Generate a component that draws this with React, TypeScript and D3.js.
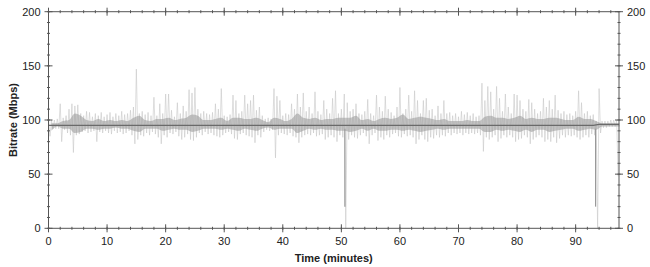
import React from "react";
import * as d3 from "d3";

// Light envelope, 0.5-minute bins starting at t = 0
const binStep = 0.5;
const lightHi = [
  101,100,100,101,115,102,104,110,115,113, // 0-4.5
  114,106,104,108,107,103,106,104,107,103, // 5-9.5
  105,107,103,106,104,108,105,106,109,112, // 10-14.5
  147,106,108,105,107,104,121,104,115,106, // 15-19.5
  124,124,109,103,116,106,113,108,128,125, // 20-24.5
  130,110,106,108,106,105,107,115,110,129, // 25-29.5
  104,103,105,123,118,106,108,123,115,118, // 30-34.5
  123,109,112,104,101,102,101,129,122,118, // 35-39.5
  104,106,105,115,110,124,112,125,108,112, // 40-44.5
  106,126,108,105,118,110,106,120,127,106, // 45-49.5
  110,124,116,108,110,115,106,105,108,119, // 50-54.5
  106,104,123,112,108,122,110,107,104,112, // 55-59.5
  130,106,110,123,108,127,118,106,118,120, // 60-64.5
  109,110,104,113,106,118,106,107,104,106, // 65-69.5
  103,108,105,107,104,106,103,104,134,118, // 70-74.5
  131,126,110,131,120,108,124,112,106,124, // 75-79.5
  123,118,110,108,119,116,110,106,108,120, // 80-84.5
  112,118,110,123,109,106,108,105,106,104, // 85-89.5
  108,127,116,106,108,104,105,99,129,99,   // 90-94.5
  99,99,100,100,100                          // 95-97
];
const lightLo = [
  85,92,92,92,80,91,88,86,70,86,
  87,89,90,88,89,90,80,89,88,90,
  88,87,90,88,89,87,88,90,86,78,
  82,86,85,88,86,89,87,84,78,86,
  84,88,87,89,85,82,84,87,82,81,
  84,88,86,89,87,88,86,85,84,86,
  88,89,87,83,82,87,88,86,85,84,
  79,86,84,89,91,90,91,65,86,88,
  87,86,88,85,84,79,84,86,87,86,
  88,85,86,87,82,84,86,84,80,86,
  84,0,82,86,84,83,86,88,85,78,
  86,88,81,84,82,86,84,87,88,85,
  84,87,85,86,84,78,82,86,82,80,
  84,83,86,84,86,85,88,86,88,87,
  88,86,88,87,88,87,88,86,71,84,
  82,84,86,80,83,86,84,86,84,80,
  82,83,86,84,78,82,84,86,84,80,
  82,80,84,79,83,86,84,86,85,86,
  84,82,84,86,84,87,86,0,88,93,
  93,94,94,94,48
];

// Dark core band, 1-minute bins starting at t = 0
const coreStep = 1;
const coreHi = [
  97,97,99,100,106,104,100,99,101,99,
  100,99,100,99,102,104,100,99,101,101,
  102,100,101,102,105,104,100,100,101,102,
  99,102,102,101,101,102,100,98,102,101,
  99,101,106,102,101,102,100,101,101,102,
  102,102,104,100,101,99,101,102,101,102,
  105,101,102,103,102,101,100,101,99,99,
  99,100,99,99,103,104,102,102,101,102,
  104,101,102,101,101,102,102,101,100,100,
  103,101,101,99,97,97,97,97
];
const coreLo = [
  90,94,92,92,88,89,92,92,91,92,
  92,93,92,92,90,89,92,92,92,90,
  91,92,91,91,89,90,92,92,92,91,
  92,91,90,92,91,90,92,93,91,92,
  92,92,88,90,92,91,92,91,91,90,
  90,89,90,92,90,92,90,90,91,91,
  90,91,90,89,90,91,92,91,92,92,
  92,92,92,92,89,89,91,90,91,90,
  89,91,89,91,91,89,90,91,92,92,
  90,91,92,91,94,94,94,94
];
// Per-minute median level (the dark centre line)
const median = [
  95,95,95,95,95,95,95,95,95,95,
  95,95,95,95,95,95,95,95,95,95,
  95,95,95,95,95,95,95,95,95,95,
  95,95,95,95,95,95,95,95,95,95,
  95,95,95,95,95,95,95,95,95,95,
  95,95,95,95,95,95,95,95,95,95,
  95,95,95,95,95,95,95,95,95,95,
  95,95,95,95,95,95,95,95,95,95,
  95,95,95,95,95,95,95,95,95,95,
  95,95,95,95,96,96,96,96
];
// Darker part of the two drop-outs
const dipTimes = [50.6, 93.4];
const dipLows = [20, 20];

const xMajor = [0, 10, 20, 30, 40, 50, 60, 70, 80, 90];
const yMajor = [0, 50, 100, 150, 200];
const xMinor = d3.range(0, 97, 2);
const yMinor = d3.range(0, 201, 10);

const W = 650;
const H = 267;

export default function App() {
  const x = d3.scaleLinear().domain([0, 97.4]).range([48.5, 619]);
  const y = d3.scaleLinear().domain([0, 200]).range([228.3, 11.7]);

  const lightPts: [number, number][] = [];
  lightHi.forEach((h, i) => {
    const t = i * binStep;
    lightPts.push([t, h]);
    lightPts.push([t + binStep / 2, lightLo[i]]);
  });

  const coreData = coreHi.map((h, i) => ({ t: i * coreStep + 0.5, hi: h, lo: coreLo[i] }));
  const area = d3
    .area<{ t: number; hi: number; lo: number }>()
    .x((d) => x(d.t))
    .y0((d) => y(d.lo))
    .y1((d) => y(d.hi))
    .curve(d3.curveMonotoneX);

  const medPts: [number, number][] = median.map((m, i) => [i * coreStep, m]);
  medPts.push([97.4, median[median.length - 1]]);
  const line = d3
    .line<[number, number]>()
    .x((d) => x(d[0]))
    .y((d) => y(d[1]));

  const x0 = x(0), x1 = x(97.4), yT = y(200), yB = y(0);
  const axisColor = "#555";
  const font = "'Liberation Sans', Arial, sans-serif";

  return (
    <svg
      width={W}
      height={H}
      style={{ position: "absolute", left: 0, top: 0, background: "#fff" }}
      fontFamily={font}
    >
      <path d={line(lightPts) || ""} fill="none" stroke="#c8c8c8" strokeWidth={0.6} />
      <path d={area(coreData) || ""} fill="#8f8f8f" fillOpacity={0.5} />
      {dipTimes.map((t, i) => (
        <line key={"d" + i} x1={x(t)} x2={x(t)} y1={y(92)} y2={y(dipLows[i])} stroke="#999" strokeWidth={1.2} />
      ))}
      <path d={line(medPts) || ""} fill="none" stroke="#6a6a6a" strokeWidth={1.3} />

      <rect x={x0} y={yT} width={x1 - x0} height={yB - yT} fill="none" stroke={axisColor} strokeWidth={1} />

      {xMinor.map((v) => (
        <g key={"xm" + v}>
          <line x1={x(v)} x2={x(v)} y1={yB - 1.5} y2={yB + 1.5} stroke={axisColor} />
          <line x1={x(v)} x2={x(v)} y1={yT - 1.5} y2={yT + 1.5} stroke={axisColor} />
        </g>
      ))}
      {xMajor.map((v) => (
        <g key={"xM" + v}>
          <line x1={x(v)} x2={x(v)} y1={yB - 4} y2={yB + 4} stroke={axisColor} />
          <line x1={x(v)} x2={x(v)} y1={yT - 4} y2={yT + 4} stroke={axisColor} />
          <text x={x(v)} y={yB + 17} textAnchor="middle" fontSize={11} fill="#222">
            {v}
          </text>
        </g>
      ))}
      {yMinor.map((v) => (
        <g key={"ym" + v}>
          <line x1={x0 - 1.5} x2={x0 + 1.5} y1={y(v)} y2={y(v)} stroke={axisColor} />
          <line x1={x1 - 1.5} x2={x1 + 1.5} y1={y(v)} y2={y(v)} stroke={axisColor} />
        </g>
      ))}
      {yMajor.map((v) => (
        <g key={"yM" + v}>
          <line x1={x0 - 4} x2={x0 + 4} y1={y(v)} y2={y(v)} stroke={axisColor} />
          <line x1={x1 - 4} x2={x1 + 4} y1={y(v)} y2={y(v)} stroke={axisColor} />
          <text x={x0 - 8} y={y(v) + 4} textAnchor="end" fontSize={11} fill="#222">
            {v}
          </text>
          <text x={x1 + 8} y={y(v) + 4} textAnchor="start" fontSize={11} fill="#222">
            {v}
          </text>
        </g>
      ))}

      <text x={(x0 + x1) / 2} y={262} textAnchor="middle" fontSize={11} fontWeight="bold" fill="#222">
        Time (minutes)
      </text>
      <text
        transform={`translate(17, ${(yT + yB) / 2}) rotate(-90)`}
        textAnchor="middle"
        fontSize={11}
        fontWeight="bold"
        fill="#222"
      >
        Bitrate (Mbps)
      </text>
    </svg>
  );
}
